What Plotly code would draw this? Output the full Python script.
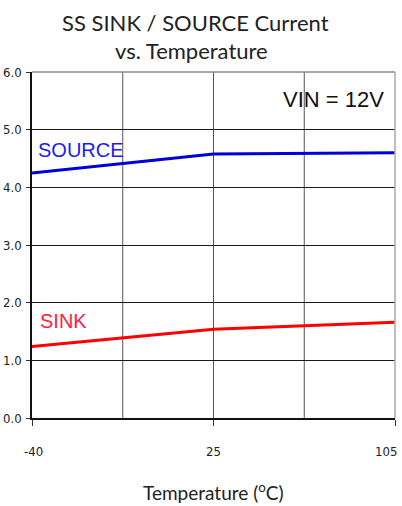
import plotly.graph_objects as go

# Data
temperatures = ["-40", "25", "105"]
source_current = [4.25, 4.58, 4.60]
sink_current = [1.24, 1.54, 1.66]
y_ticks = [0, 1, 2, 3, 4, 5, 6]
y_tick_labels = ["0.0", "1.0", "2.0", "3.0", "4.0", "5.0", "6.0"]
title_lines = ["SS SINK / SOURCE Current", "vs. Temperature"]
x_title = "Temperature (<sup>o</sup>C)"

W, H = 402, 506
L, R, T, B = 32, 7, 72, 88
PH = H - T - B  # plot height in px


def py(p):
    """pixel row -> paper y"""
    return (H - B - p) / PH


fig = go.Figure()
fig.add_trace(go.Scatter(x=temperatures, y=source_current, mode="lines",
                         line=dict(color="#0000D8", width=3), name="SOURCE",
                         showlegend=False, hoverinfo="skip"))
fig.add_trace(go.Scatter(x=temperatures, y=sink_current, mode="lines",
                         line=dict(color="#FF0000", width=3), name="SINK",
                         showlegend=False, hoverinfo="skip"))

tick_font = dict(family="DejaVu Sans Condensed, Liberation Sans Narrow, Liberation Sans, sans-serif",
                 size=13, color="#222222")
label_font = "Lato, Open Sans, sans-serif"

annotations = [
    dict(text=title_lines[0], xref="paper", yref="paper", x=(195 - L) / (W - L - R), y=py(22),
         xanchor="center", yanchor="middle", showarrow=False,
         font=dict(family=label_font, size=22, color="#222222")),
    dict(text=title_lines[1], xref="paper", yref="paper", x=(191 - L) / (W - L - R), y=py(50),
         xanchor="center", yanchor="middle", showarrow=False,
         font=dict(family=label_font, size=22, color="#222222")),
    dict(text=x_title, xref="paper", yref="paper", x=0.5, y=py(491),
         xanchor="center", yanchor="middle", showarrow=False,
         font=dict(family=label_font, size=19, color="#222222")),
    dict(text="VIN = 12V", xref="paper", yref="y", x=0.975, y=5.52,
         xanchor="right", yanchor="middle", showarrow=False,
         font=dict(family="Liberation Sans, Arial, sans-serif", size=22, color="#111111")),
    dict(text="SOURCE", xref="paper", yref="y", x=0.012, y=4.64,
         xanchor="left", yanchor="middle", showarrow=False,
         font=dict(family="Liberation Sans, Arial, sans-serif", size=20, color="#1a1aff")),
    dict(text="SINK", xref="paper", yref="y", x=0.017, y=1.69,
         xanchor="left", yanchor="middle", showarrow=False,
         font=dict(family="Liberation Sans, Arial, sans-serif", size=20, color="#ff2040")),
]
# x tick labels as annotations so the last one stays inside the figure
anchors = ["center", "center", "right"]
shifts = [1, 0, 4]
for i, (t, a, s) in enumerate(zip(temperatures, anchors, shifts)):
    annotations.append(dict(text=t, xref="x", yref="paper", x=i, y=py(451),
                            xanchor=a, yanchor="middle", xshift=s, showarrow=False,
                            font=tick_font))

fig.update_layout(
    width=W, height=H,
    margin=dict(l=L, r=R, t=T, b=B, autoexpand=False),
    paper_bgcolor="white", plot_bgcolor="white",
    xaxis=dict(type="category", range=[0, 2], automargin=False,
               showgrid=True, gridcolor="#555555", gridwidth=1,
               showline=True, linecolor="#111111", linewidth=1.5,
               ticks="outside", ticklen=6, tickcolor="#333333",
               showticklabels=False,
               zeroline=False, fixedrange=True),
    yaxis=dict(range=[0, 6], tickvals=y_ticks, ticktext=y_tick_labels, automargin=False,
               showgrid=True, gridcolor="#1a1a1a", gridwidth=1.4,
               showline=True, linecolor="#111111", linewidth=1.5,
               ticks="outside", ticklen=4, tickcolor="#333333",
               ticklabelstandoff=2, tickfont=tick_font,
               zeroline=False, fixedrange=True),
    shapes=[
        dict(type="line", xref="x", yref="paper", x0=0.5, x1=0.5, y0=0, y1=1,
             line=dict(color="#555555", width=1), layer="below"),
        dict(type="line", xref="x", yref="paper", x0=1.5, x1=1.5, y0=0, y1=1,
             line=dict(color="#555555", width=1), layer="below"),
        dict(type="line", xref="paper", yref="paper", x0=0, x1=1, y0=1, y1=1,
             line=dict(color="#888888", width=1.5)),
        dict(type="line", xref="paper", yref="paper", x0=1, x1=1, y0=0, y1=1,
             line=dict(color="#aaaaaa", width=1.5)),
    ],
    annotations=annotations,
)

fig.write_html("out.html", config={"displayModeBar": False},
               post_script="document.body.style.margin='0';document.body.style.padding='0';")
